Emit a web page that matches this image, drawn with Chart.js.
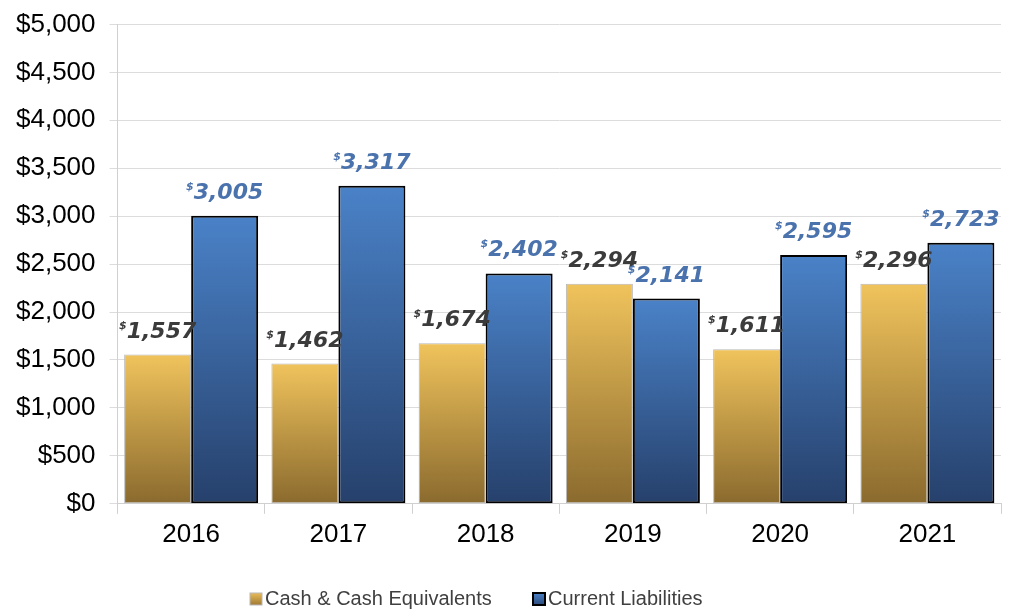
<!DOCTYPE html>
<html>
<head>
<meta charset="utf-8">
<script src="https://cdn.jsdelivr.net/npm/chart.js@4"></script>
<style>
  html, body { margin: 0; padding: 0; background: #fff; }
  #wrap { width: 1009px; height: 611px; }
</style>
</head>
<body>
<div id="wrap"><canvas id="chart"></canvas></div>
<script>
// Cash vs current liabilities, 2016-2021
const years = ['2016', '2017', '2018', '2019', '2020', '2021'];
const cashValues = [1557, 1462, 1674, 2294, 1611, 2296];
const liabilityValues = [3005, 3317, 2402, 2141, 2595, 2723];
const yTicks = [0, 500, 1000, 1500, 2000, 2500, 3000, 3500, 4000, 4500, 5000];

// per-bar vertical gradient
function barGradient(top, bottom) {
    return function(ctx) {
        const chart = ctx.chart;
        const y = chart.scales.y;
        if (!chart.chartArea || !y || ctx.parsed === undefined) return top;
        const y0 = y.getPixelForValue(ctx.parsed.y);
        const y1 = y.getPixelForValue(0);
        const g = chart.ctx.createLinearGradient(0, y0, 0, y1);
        g.addColorStop(0, top);
        g.addColorStop(1, bottom);
        return g;
    };
}

// value labels drawn above each bar, with a small superscript $
const valueLabels = {
    id: 'valueLabels',
    afterDatasetsDraw(chart) {
        const ctx = chart.ctx;
        const colors = ['#3b3b3b', '#4a72ac'];
        chart.data.datasets.forEach((ds, i) => {
            const meta = chart.getDatasetMeta(i);
            meta.data.forEach((bar, j) => {
                const text = ds.data[j].toLocaleString('en-US');
                ctx.save();
                ctx.font = 'italic bold 22px "DejaVu Sans"';
                const w = ctx.measureText(text).width;
                ctx.font = 'italic bold 11px "DejaVu Sans"';
                const ws = ctx.measureText('$').width;
                const left = bar.x - (w + ws) / 2;
                const base = bar.y - 17;
                ctx.fillStyle = colors[i];
                ctx.textBaseline = 'alphabetic';
                ctx.fillText('$', left, base - 9);
                ctx.font = 'italic bold 22px "DejaVu Sans"';
                ctx.fillText(text, left + ws, base);
                ctx.restore();
            });
        });
    }
};

// simple bottom legend (box sits right next to the text)
const bottomLegend = {
    id: 'bottomLegend',
    afterDraw(chart) {
        const ctx = chart.ctx;
        const items = [
            { text: 'Cash & Cash Equivalents', x: 250, top: '#e8bb58', bottom: '#a07a34', stroke: '#b8b8b8', lw: 1 },
            { text: 'Current Liabilities', x: 533, top: '#4a82c8', bottom: '#2c4a7a', stroke: '#000', lw: 2 }
        ];
        const cy = 599;
        ctx.save();
        items.forEach(it => {
            const g = ctx.createLinearGradient(0, cy - 6, 0, cy + 6);
            g.addColorStop(0, it.top);
            g.addColorStop(1, it.bottom);
            ctx.fillStyle = g;
            ctx.fillRect(it.x, cy - 6, 12, 12);
            ctx.lineWidth = it.lw;
            ctx.strokeStyle = it.stroke;
            ctx.strokeRect(it.x, cy - 6, 12, 12);
            ctx.fillStyle = '#404040';
            ctx.font = '20px "Liberation Sans", Arial';
            ctx.textBaseline = 'middle';
            ctx.fillText(it.text, it.x + 15, cy);
        });
        ctx.restore();
    }
};

new Chart(document.getElementById('chart'), {
    type: 'bar',
    data: {
        labels: years,
        datasets: [{
            label: 'Cash & Cash Equivalents',
            data: cashValues,
            backgroundColor: barGradient('#f0c35c', '#8a6a2e'),
            borderColor: '#b8b8b8',
            borderWidth: 1,
            borderSkipped: false
        }, {
            label: 'Current Liabilities',
            data: liabilityValues,
            backgroundColor: barGradient('#4a82c8', '#26406b'),
            borderColor: '#000',
            borderWidth: 2,
            borderSkipped: false
        }]
    },
    options: {
        responsive: true,
        maintainAspectRatio: false,
        animation: false,
        layout: { padding: { top: 3, right: 8, left: 2, bottom: 56 } },
        datasets: {
            bar: { barPercentage: 1, categoryPercentage: 0.91 }
        },
        scales: {
            x: {
                grid: { drawOnChartArea: false, offset: true, tickLength: 10, color: '#d0d0d0' },
                border: { color: '#d0d0d0' },
                ticks: { color: '#000', font: { family: '"Liberation Sans", Arial', size: 26 }, padding: 5 }
            },
            y: {
                min: 0,
                max: 5000,
                afterBuildTicks: axis => { axis.ticks = yTicks.map(v => ({ value: v })); },
                grid: { color: '#dcdcdc', tickLength: 8 },
                border: { color: '#d0d0d0' },
                ticks: {
                    color: '#000',
                    font: { family: '"Liberation Sans", Arial', size: 26, lineHeight: 0.8 },
                    padding: 14,
                    callback: v => '$' + v.toLocaleString('en-US')
                }
            }
        },
        plugins: {
            tooltip: { enabled: false },
            legend: { display: false }
        }
    },
    plugins: [valueLabels, bottomLegend]
});
</script>
</body>
</html>
